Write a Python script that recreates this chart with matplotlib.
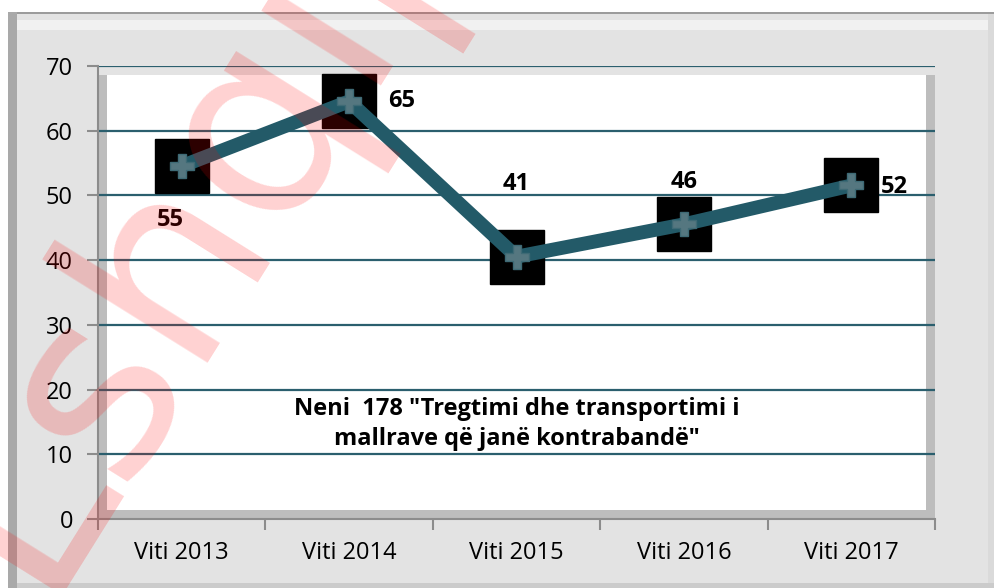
import matplotlib.pyplot as plt
from matplotlib.patches import Rectangle
from matplotlib.transforms import offset_copy

# data
years = ["Viti 2013", "Viti 2014", "Viti 2015", "Viti 2016", "Viti 2017"]
values = [55, 65, 41, 46, 52]
yticks = [0, 10, 20, 30, 40, 50, 60, 70]
# label offsets (points) for each data label
label_offsets = [(-8, -41), (28, -2), (0, 50), (0, 28), (21, -3)]
label_ha = ["center", "left", "center", "center", "left"]
title = 'Neni  178 "Tregtimi dhe transportimi i\nmallrave që janë kontrabandë"'

plt.rcParams['font.family'] = ['Open Sans', 'DejaVu Sans']

W, H = 995, 588
fig = plt.figure(figsize=(W / 100, H / 100), dpi=100)
fig.patch.set_facecolor('white')


def frame_rect(x0, y0, x1, y1, color, z=-5):
    # rectangle in pixel coords (top-left origin)
    fig.patches.append(Rectangle((x0 / W, 1 - y1 / H), (x1 - x0) / W, (y1 - y0) / H,
                                 transform=fig.transFigure, facecolor=color,
                                 edgecolor='none', zorder=z))


# outer grey frame
frame_rect(8, 12, 995, 588, '#e3e3e3')
frame_rect(17, 20, 988, 30, '#f1f1f1', -4)
frame_rect(8, 12, 995, 14, '#9c9c9c', -3)
frame_rect(8, 12, 17, 588, '#a9a9a9', -3)
frame_rect(17, 583, 995, 588, '#cbcbcb', -3)
frame_rect(988, 14, 995, 583, '#dadada', -3)

left, right, top, bottom = 98, 935, 66, 519
ax = fig.add_axes([left / W, 1 - bottom / H, (right - left) / W, (bottom - top) / H])
ax.set_facecolor('#bdbdbd')

# 3d-ish wall: light top strip, white inner area
aw, ah = right - left, bottom - top
ax.add_patch(Rectangle((0, 1 - 9 / ah), 1, 9 / ah, transform=ax.transAxes,
                       facecolor='#e3e3e3', edgecolor='none', zorder=0))
ax.add_patch(Rectangle((9 / aw, 9 / ah), 1 - 18 / aw, 1 - 18 / ah, transform=ax.transAxes,
                       facecolor='white', edgecolor='none', zorder=0))

x = list(range(len(years)))
ax.set_xlim(-0.5, len(years) - 0.5)
ax.set_ylim(0, 70)

for v in yticks[1:]:
    ax.axhline(v, color='#2b5f6e', linewidth=1.6, zorder=1)

# excel draws the series a few pixels low
shifted = offset_copy(ax.transData, fig=fig, x=0, y=-3, units='dots')
ax.plot(x, values, linestyle='none', marker='s', markersize=39, transform=shifted,
        markerfacecolor='black', markeredgecolor='black', zorder=3)
ax.plot(x, values, color='#235a68', linewidth=10, solid_capstyle='butt',
        transform=shifted, zorder=4)
ax.plot(x, values, linestyle='none', marker='P', markersize=17, transform=shifted,
        markerfacecolor='#557780', markeredgecolor='#3e6a75', markeredgewidth=1, zorder=5)

for xi, v, off, ha in zip(x, values, label_offsets, label_ha):
    ax.annotate(str(v), (xi, v), xytext=off, textcoords='offset points',
                ha=ha, va='center', fontsize=17, fontweight='bold', color='black', zorder=6)

ax.text(2, 14.7, title, ha='center', va='center', fontsize=17, fontweight='bold',
        linespacing=1.35, zorder=6)

for s in ['top', 'right']:
    ax.spines[s].set_visible(False)
for s in ['left', 'bottom']:
    ax.spines[s].set_color('#8c8c8c')
    ax.spines[s].set_linewidth(1.5)

ax.set_yticks(yticks)
ax.tick_params(axis='y', length=8, width=1.5, color='#8c8c8c', labelsize=17, pad=10)
ax.set_xticks(x)
ax.set_xticklabels(years)
ax.set_xticks([i - 0.5 for i in range(len(years) + 1)], minor=True)
ax.tick_params(axis='x', which='major', length=0, labelsize=17, pad=16)
ax.tick_params(axis='x', which='minor', length=8, width=1.5, color='#8c8c8c')

# watermark
fig.text(38 / W, 1 - 595 / H, "Lshqip", rotation=58, rotation_mode='anchor',
         ha='left', va='baseline', fontsize=185, color='red', alpha=0.18,
         family='DejaVu Sans', zorder=10)

fig.savefig('out.png', dpi=100)
